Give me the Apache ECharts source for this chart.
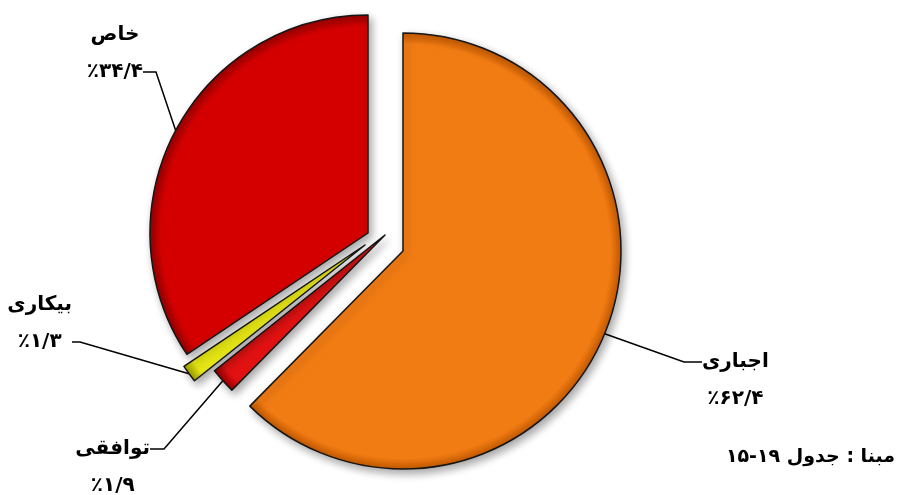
<!DOCTYPE html>
<html><head><meta charset="utf-8">
<script src="https://cdn.jsdelivr.net/npm/echarts@6/dist/echarts.min.js"></script>
<style>html,body{margin:0;padding:0;background:#fff}#c{width:902px;height:495px}</style>
</head><body><div id="c"></div>
<script>
// ---- data ----
const categories = ['اجباری', 'توافقی', 'بیکاری', 'خاص'];
const values = [62.4, 1.9, 1.3, 34.4];
const sourceNote = 'مبنا : جدول ۱۹-۱۵';

// ---- styling / layout ----
const sliceColors = ['#F27C14', '#E31212', '#E8E816', '#D40000'];
const rimColors = ['#C45A00', '#A00000', '#A0A000', '#980000'];
const pieCenter = [403, 251];
const pieRadius = 218;
// how far each slice is pulled out of the pie (px, x / y)
const explode = [[0, 0], [-18, -16], [-38, -6], [-35, -18]];
// label anchor (end of leader line), elbow of leader line, alignment, which text line sits on the leader
const labelPlace = [
  { end: [702, 362], elbow: [684, 362], align: 'left', lineOn: 'name' },
  { end: [150, 449], elbow: [164, 449], align: 'right', lineOn: 'name' },
  { end: [72, 342], elbow: [80, 342], align: 'right', lineOn: 'value' },
  { end: [143, 72], elbow: [156, 72], align: 'right', lineOn: 'value' }
];

function faNum(v) {
  const d = '۰۱۲۳۴۵۶۷۸۹';
  return String(v).replace('.', '/').replace(/[0-9]/g, c => d[+c]);
}

const font = '"DejaVu Sans", sans-serif';
const txt = { fontFamily: font, fontSize: 20, fontWeight: 'bold', lineHeight: 37, align: 'center', color: '#000' };

const chart = echarts.init(document.getElementById('c'));
chart.setOption({
  animation: false,
  title: {
    text: sourceNote, right: 2, top: 443,
    textStyle: { fontFamily: font, fontSize: 19, fontWeight: 'bold', color: '#000' }
  },
  series: categories.map((_, k) => {
    const cx = pieCenter[0] + explode[k][0], cy = pieCenter[1] + explode[k][1];
    return {
      type: 'pie',
      center: [cx, cy],
      radius: pieRadius,
      startAngle: 90,
      clockwise: true,
      avoidLabelOverlap: false,
      silent: true,
      label: {
        fontFamily: font,
        color: '#000',
        formatter: p => {
          const n = '{n|' + p.name + '}', v = '{v|٪' + faNum(p.value) + '}';
          return labelPlace[p.dataIndex].lineOn === 'value'
            ? n + '\n' + v + '\n{e|}'
            : '{e|}\n' + n + '\n' + v;
        },
        rich: { n: txt, v: txt, e: txt }
      },
      labelLine: { length: 20, length2: 15, lineStyle: { color: '#000', width: 1.5 } },
      labelLayout: params => {
        const lp = labelPlace[params.dataIndex];
        const pts = params.labelLinePoints;
        if (!pts) return {};
        return {
          x: lp.end[0], y: lp.end[1],
          align: lp.align, verticalAlign: 'middle',
          labelLinePoints: [pts[0], lp.elbow, lp.end]
        };
      },
      data: categories.map((c, i) => {
        const vis = i === k;
        return {
          name: c,
          value: values[i],
          label: { show: vis },
          labelLine: { show: vis },
          itemStyle: vis ? {
            color: {
              type: 'radial', x: cx, y: cy, r: pieRadius, global: true,
              colorStops: [
                { offset: 0, color: sliceColors[i] },
                { offset: 0.95, color: sliceColors[i] },
                { offset: 1, color: rimColors[i] }
              ]
            },
            borderColor: '#151515',
            borderWidth: 1.5,
            shadowColor: 'rgba(0,0,0,0.35)',
            shadowBlur: 9,
            shadowOffsetX: 3,
            shadowOffsetY: 4
          } : { color: 'rgba(0,0,0,0)', borderWidth: 0, shadowBlur: 0 }
        };
      })
    };
  })
});
</script></body></html>
